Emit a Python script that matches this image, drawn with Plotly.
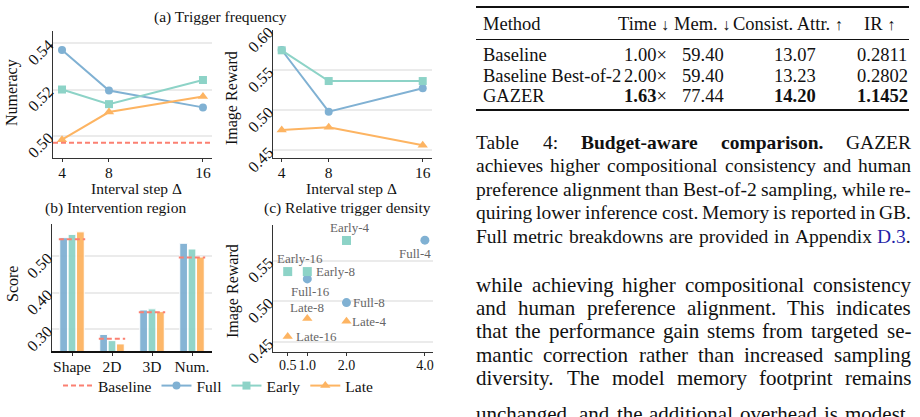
import re
import plotly.graph_objects as go

W, H = 920, 417
FONT = "Liberation Serif"
INK = "#111111"

# ------------------------------------------------------------------ data
steps = [4, 8, 16]
step_ticks = ["4", "8", "16"]

num_full = [0.5370, 0.5196, 0.5123]
num_early = [0.5200, 0.5137, 0.5241]
num_late = [0.4984, 0.5103, 0.5170]
num_baseline = 0.4971
num_ticks = [0.50, 0.52, 0.54]

ir_full = [0.5754, 0.4983, 0.5275]
ir_early = [0.5750, 0.5366, 0.5366]
ir_late = [0.4754, 0.4788, 0.4563]
ir_ticks = [0.45, 0.50, 0.55, 0.60]

regions = ["Shape", "2D", "3D", "Num."]
reg_full = [0.551, 0.286, 0.353, 0.5356]
reg_early = [0.560, 0.269, 0.356, 0.520]
reg_late = [0.567, 0.260, 0.3485, 0.498]
reg_baseline = [0.5466, 0.2743, 0.347, 0.497]
score_ticks = [0.30, 0.40, 0.50]

dens_full = [4.0, 2.0, 1.0]
dens_early = [2.0, 1.0, 0.5]
dens_late = [2.0, 1.0, 0.5]
dens_ticks = [0.5, 1.0, 2.0, 4.0]
dens_ticktext = ["0.5", "1.0", "2.0", "4.0"]
dens_ir_ticks = [0.45, 0.50, 0.55]

series_names = ["Full", "Early", "Late"]
series_colors = ["#80B1D3", "#8DD3C7", "#FDB462"]
series_symbols = ["circle", "square", "triangle-up"]
baseline_color = "#FB8072"

# table
tab_methods = ["Baseline", "Baseline Best-of-2", "GAZER"]
tab_time = ["1.00", "2.00", "1.63"]
tab_mem = ["59.40", "59.40", "77.44"]
tab_consist = ["13.07", "13.23", "14.20"]
tab_ir = ["0.2811", "0.2802", "1.1452"]
tab_best = [False, False, True]
ARW_D = "<span style='font-size:16px'>↓</span>"
ARW_U = "<span style='font-size:16px'>↑</span>"
tab_headers = ["Method", "Time " + ARW_D, "Mem. " + ARW_D, "Consist. Attr. " + ARW_U, "IR " + ARW_U]

LINK = "<span style='color:#1f1fa8'>D.3</span>"
caption_lines = [
    "Table 4: <b>Budget-aware</b> <b>comparison.</b> GAZER",
    "achieves higher compositional consistency and human",
    "preference alignment than Best-of-2 sampling, while re-",
    "quiring lower inference cost. Memory is reported in GB.",
    "Full metric breakdowns are provided in Appendix @LINK@.",
]
body_lines = [
    "while achieving higher compositional consistency",
    "and human preference alignment. This indicates",
    "that the performance gain stems from targeted se-",
    "mantic correction rather than increased sampling",
    "diversity. The model memory footprint remains",
    "unchanged, and the additional overhead is modest,",
]

# ------------------------------------------------------------------ helpers
def dx(a, b):
    return [a / W, b / W]


def dy(a, b):
    return [1 - b / H, 1 - a / H]


def px(x):
    return x / W


def py(y):
    return 1 - y / H


REG = dict(zip("abcdefghijklmnopqrstuvwxyz",
               [444, 500, 444, 500, 444, 333, 500, 500, 278, 278, 500, 278, 778,
                500, 500, 500, 500, 333, 389, 278, 500, 500, 722, 500, 500, 444]))
REG.update(dict(zip("ABCDEFGHIJKLMNOPQRSTUVWXYZ",
                    [722, 667, 667, 722, 611, 556, 722, 722, 333, 389, 722, 611, 889,
                     722, 722, 556, 722, 667, 556, 611, 722, 722, 944, 722, 722, 611])))
REG.update({" ": 250, ".": 250, ",": 250, "-": 333, ":": 278, "(": 333, ")": 333})
REG.update({d: 500 for d in "0123456789"})
BOLD = dict(zip("abcdefghijklmnopqrstuvwxyz",
                [500, 556, 444, 556, 444, 333, 500, 556, 278, 333, 556, 278, 833,
                 556, 500, 556, 556, 444, 389, 333, 556, 500, 722, 500, 500, 444]))
BOLD.update(dict(zip("ABCDEFGHIJKLMNOPQRSTUVWXYZ",
                     [722, 667, 722, 722, 667, 611, 778, 778, 389, 500, 778, 667, 944,
                      722, 778, 611, 778, 722, 556, 667, 722, 722, 1000, 722, 722, 667])))
BOLD.update({" ": 250, ".": 250, ",": 250, "-": 333, ":": 333})
BOLD.update({d: 500 for d in "0123456789"})


def word_width(word, size):
    bold = "<b>" in word
    plain = re.sub(r"<[^>]+>", "", word)
    tab = BOLD if bold else REG
    return sum(tab.get(c, 500) for c in plain) / 1000 * size


annotations = []
shapes = []


def justified(line, y, size, x0=475, x1=910):
    words = [w.replace("@LINK@", LINK) for w in line.split(" ")]
    widths = [word_width(w, size) for w in words]
    gap = (x1 - x0 - sum(widths)) / max(len(words) - 1, 1)
    gap = max(gap, 0.15 * size)
    x = x0
    for w, wd in zip(words, widths):
        annotations.append(dict(text=w, x=px(x), y=py(y), xref="paper", yref="paper",
                                xanchor="left", yanchor="middle", showarrow=False,
                                xshift=-1, font=dict(family=FONT, size=size, color=INK)))
        x += wd + gap


def label(text, x, y, size, anchor="center", angle=0, color=INK):
    annotations.append(dict(text=text, x=px(x), y=py(y), xref="paper", yref="paper",
                            xanchor=anchor, yanchor="middle", showarrow=False,
                            textangle=angle, font=dict(family=FONT, size=size, color=color)))


# ------------------------------------------------------------------ figure
fig = go.Figure()

# baseline segments over bar groups (also the legend entry)
bx, by = [], []
for i, v in enumerate(reg_baseline):
    bx += [i - 0.33, i + 0.33, None]
    by += [v, v, None]
fig.add_trace(go.Scatter(x=bx, y=by, mode="lines", name="Baseline",
                         line=dict(color=baseline_color, dash="5px,3px", width=2),
                         xaxis="x3", yaxis="y3", showlegend=True))

for name, vals, col in zip(series_names, [reg_full, reg_early, reg_late], series_colors):
    fig.add_trace(go.Bar(x=list(range(len(regions))), y=vals, name=name, marker=dict(
        color=col, opacity=0.95, line=dict(color="white", width=1)),
        xaxis="x3", yaxis="y3", showlegend=False, offsetgroup=name))

# (a) numeracy
for name, vals, col, sym in zip(series_names, [num_full, num_early, num_late],
                                series_colors, series_symbols):
    fig.add_trace(go.Scatter(x=steps, y=vals, mode="lines+markers", name=name,
                             line=dict(color=col, width=2),
                             marker=dict(symbol=sym, size=9 if sym == "triangle-up" else 8, color=col),
                             xaxis="x", yaxis="y", showlegend=True))
# (a) image reward
for name, vals, col, sym in zip(series_names, [ir_full, ir_early, ir_late],
                                series_colors, series_symbols):
    fig.add_trace(go.Scatter(x=steps, y=vals, mode="lines+markers", name=name,
                             line=dict(color=col, width=2),
                             marker=dict(symbol=sym, size=9 if sym == "triangle-up" else 8, color=col),
                             xaxis="x2", yaxis="y2", showlegend=False))
# (c) density
label_off = {
    "Full-4": ("center", -10, -13), "Full-8": ("left", 5, 0), "Full-16": ("center", 3, -13),
    "Early-4": ("center", 3, 13), "Early-8": ("left", 7, 0), "Early-16": ("center", 12, 13),
    "Late-4": ("left", 4, 0), "Late-8": ("center", 0, 11), "Late-16": ("left", 6, 0),
}
for name, dens, vals, col, sym in zip(series_names, [dens_full, dens_early, dens_late],
                                      [ir_full, ir_early, ir_late], series_colors, series_symbols):
    fig.add_trace(go.Scatter(x=dens, y=vals, mode="markers", name=name,
                             marker=dict(symbol=sym, size=9, color=col),
                             xaxis="x4", yaxis="y4", showlegend=False))
    for s, xv, yv in zip(steps, dens, vals):
        key = f"{name}-{s}"
        anc, xs, ys = label_off[key]
        annotations.append(dict(text=key, x=xv, y=yv, xref="x4", yref="y4", showarrow=False,
                                xanchor=anc, yanchor="middle", xshift=xs, yshift=ys,
                                font=dict(family=FONT, size=13, color="#666666")))

# dashed baseline in numeracy panel
shapes.append(dict(type="line", xref="x domain", yref="y", x0=0, x1=1, y0=num_baseline,
                   y1=num_baseline, line=dict(color=baseline_color, dash="5px,3px", width=2)))


def xax(size):
    return dict(showline=True, linecolor="#333333", linewidth=1.3, ticks="outside",
                ticklen=3, tickcolor="#333333", showgrid=False, zeroline=False,
                tickfont=dict(family=FONT, size=size, color=INK), tickangle=0,
                automargin=False, ticklabelstandoff=-3)


def yax():
    return dict(showline=True, linecolor="#333333", linewidth=1.3, ticks="",
                showgrid=True, gridcolor="#ebebeb", gridwidth=1.5, zeroline=False,
                tickangle=-45, tickfont=dict(family=FONT, size=16, color=INK),
                tickformat=".2f", automargin=False)


fig.update_layout(
    template="none",
    width=W, height=H, margin=dict(l=0, r=0, t=0, b=0, pad=0, autoexpand=False),
    paper_bgcolor="white", plot_bgcolor="white",
    font=dict(family=FONT, color=INK),
    barmode="group", bargap=0.37, bargroupgap=0.08,
    xaxis=dict(xax(15.5), domain=dx(53, 212), range=[3.234, 16.77], tickvals=steps,
               ticktext=step_ticks, anchor="y"),
    yaxis=dict(yax(), domain=dy(31, 158), range=[0.4905, 0.5452], tickvals=num_ticks,
               anchor="x"),
    xaxis2=dict(xax(15.5), domain=dx(273, 432), range=[3.26, 16.79], tickvals=steps,
                ticktext=step_ticks, anchor="y2"),
    yaxis2=dict(yax(), domain=dy(30, 158), range=[0.4404, 0.6004], tickvals=ir_ticks,
                anchor="x2"),
    xaxis3=dict(xax(15.5), domain=dx(52, 212), range=[-0.5, 3.5],
                tickvals=list(range(len(regions))), ticktext=regions, anchor="y3",
                linecolor="#111111", linewidth=2),
    yaxis3=dict(yax(), domain=dy(224, 351), range=[0.2406, 0.5885], tickvals=score_ticks,
                anchor="x3"),
    xaxis4=dict(xax(14), domain=dx(273, 433), range=[0.125, 4.207], tickvals=dens_ticks,
                ticktext=dens_ticktext, anchor="y4"),
    yaxis4=dict(yax(), domain=dy(225, 352), range=[0.4373, 0.5941], tickvals=dens_ir_ticks,
                anchor="x4"),
    legend=dict(orientation="h", x=px(218), y=py(386), xanchor="center", yanchor="middle",
                font=dict(family=FONT, size=15.5, color=INK), bgcolor="rgba(0,0,0,0)",
                itemwidth=30, tracegroupgap=0),
)

# panel titles and axis titles
label("(a) Trigger frequency", 220, 17, 15.5)
label("(b) Intervention region", 115, 208, 15.5)
label("(c) Relative trigger density", 347, 208, 15.5)
label("Numeracy", 12, 93, 16, angle=-90)
label("Image Reward", 232, 98, 16, angle=-90)
label("Score", 12, 284, 16, angle=-90)
label("Image Reward", 233, 291, 16, angle=-90)
label("Interval step Δ", 136, 188, 15.5)
label("Interval step Δ", 351, 188, 15.5)

# ------------------------------------------------------------------ table
TS = 18.5
rule_x0, rule_x1 = 476, 909
for yy, wdt in [(7, 2), (39.5, 1.2), (110, 2)]:
    shapes.append(dict(type="line", xref="paper", yref="paper", x0=px(rule_x0), x1=px(rule_x1),
                       y0=py(yy), y1=py(yy), line=dict(color=INK, width=wdt)))
head_x = [481, 643, 702, 788, 879]
head_anchor = ["left", "center", "center", "center", "center"]
for t, xh, an in zip(tab_headers, head_x, head_anchor):
    label(t, xh, 24.5, TS, anchor=an)
row_y = [55, 75.5, 95.5]
for m, t, me, c, ir, best, yy in zip(tab_methods, tab_time, tab_mem, tab_consist, tab_ir,
                                     tab_best, row_y):
    b0, b1 = ("<b>", "</b>") if best else ("", "")
    label(m, 481, yy, TS, anchor="left")
    label(f"{b0}{t}{b1}×", 645, yy, TS)
    label(me, 703, yy, TS)
    label(f"{b0}{c}{b1}", 795, yy, TS)
    label(f"{b0}{ir}{b1}", 882, yy, TS)

# caption
for i, line in enumerate(caption_lines):
    justified(line, 142 + i * 23.5, 19.5)
# body text
for i, line in enumerate(body_lines):
    justified(line, 285 + i * 23.2 + (13 if i == 5 else 0), 21)

fig.update_layout(annotations=annotations, shapes=shapes)
fig.write_html("out.html")
